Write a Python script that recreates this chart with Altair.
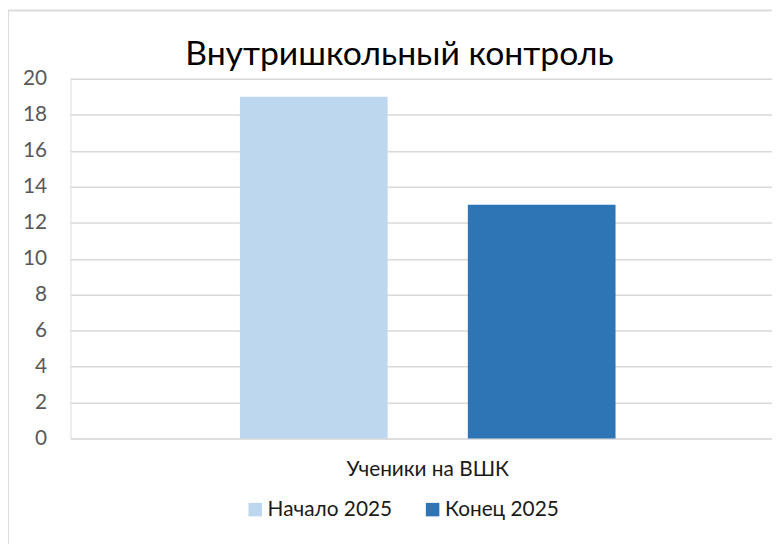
import altair as alt
import pandas as pd

categories = ["Ученики на ВШК"]
series = ["Начало 2025", "Конец 2025"]
values = [19, 13]
colors = ["#BDD7EE", "#2E75B6"]
y_ticks = [0, 2, 4, 6, 8, 10, 12, 14, 16, 18, 20]

df = pd.DataFrame({
    "cat": [categories[0]] * len(series),
    "series": series,
    "value": values,
})

FONT = "Lato"

bars = alt.Chart(df).mark_bar().encode(
    x=alt.X("cat:N", title=None,
            scale=alt.Scale(paddingInner=0, paddingOuter=0.434, align=0.52),
            axis=alt.Axis(labelAngle=0, domain=False, ticks=False, labelPadding=20,
                          labelFontSize=21, labelColor="#1A1A1A", labelFont=FONT)),
    xOffset=alt.XOffset("series:N", sort=series,
                        scale=alt.Scale(paddingInner=0.352, paddingOuter=0)),
    y=alt.Y("value:Q", title=None,
            scale=alt.Scale(domain=[0, 20], nice=False),
            axis=alt.Axis(values=y_ticks, domain=False, ticks=False, labelPadding=24,
                          labelFontSize=21, labelColor="#595959", labelFont=FONT,
                          gridColor="#D9D9D9", gridWidth=1.5)),
    color=alt.Color("series:N", sort=series,
                    scale=alt.Scale(domain=series, range=colors),
                    legend=alt.Legend(title=None, orient="none", direction="horizontal",
                                      legendX=176, legendY=424,
                                      symbolType="square", symbolSize=185,
                                      symbolStrokeWidth=0, labelFontSize=21,
                                      labelFont=FONT, labelColor="#1A1A1A",
                                      columnPadding=30, labelOffset=2)),
)

border = alt.Chart(df).mark_rect(fill=None, stroke="#D9D9D9", strokeWidth=1.5, clip=False).encode(
    x=alt.value(-63), x2=alt.value(760), y=alt.value(-69), y2=alt.value(520)
)

chart = alt.layer(border, bars).properties(
    width=708,
    height=363,
    title=alt.TitleParams("Внутришкольный контроль", fontSize=34, font=FONT,
                          fontWeight="normal", color="#000000", anchor="middle",
                          baseline="alphabetic", dx=-22, offset=-90),
    padding={"left": 63, "top": 69, "right": 0, "bottom": 104},
    autosize=alt.AutoSizeParams(type="none"),
).configure_view(stroke=None).configure(background="white")

chart.save("out.html", embed_options={"renderer": "svg", "actions": False})
